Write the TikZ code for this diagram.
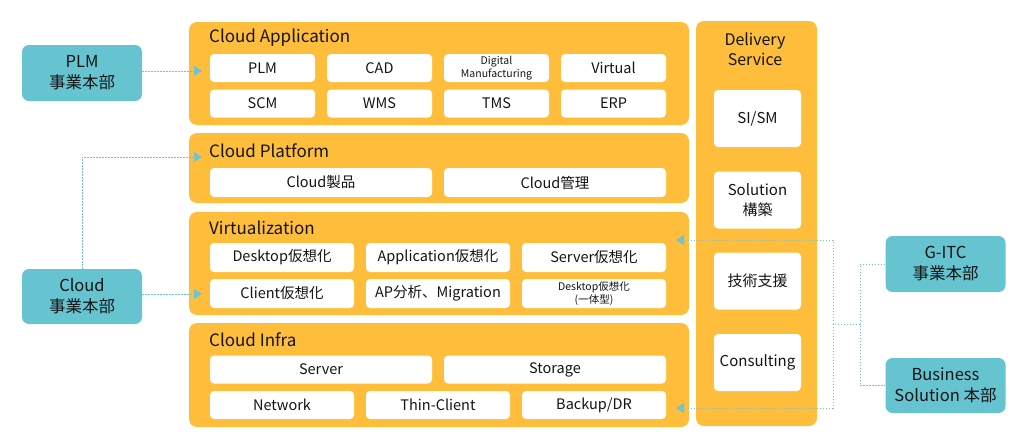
\documentclass[tikz,border=0pt]{standalone}
\usepackage{fontspec}
\setmainfont{Noto Sans CJK JP}
\usetikzlibrary{arrows.meta}
\definecolor{ylw}{RGB}{254,190,60}
\definecolor{tealbox}{RGB}{102,196,208}
\definecolor{tealline}{RGB}{110,196,212}
\definecolor{txt}{RGB}{20,20,20}
\tikzset{
  panel/.style={fill=ylw, draw=none, rounded corners=8pt, inner sep=0pt},
  wbox/.style={fill=white, draw=none, rounded corners=4pt, inner sep=0pt, align=center, text=txt, font=\fontsize{14.5}{17}\selectfont},
  smalltxt/.style={font=\fontsize{10.5}{12.5}\selectfont},
  ptitle/.style={anchor=west, inner sep=0pt, text=txt, font=\fontsize{17}{20}\selectfont},
  tbox/.style={fill=tealbox, draw=none, rounded corners=7pt, inner sep=0pt, align=center, text=txt, font=\fontsize{16.5}{21}\selectfont, minimum width=120pt, minimum height=56pt},
  conn/.style={draw=tealline, line width=1pt, dash pattern=on 1.4pt off 1.6pt},
  connA/.style={conn, -{Triangle[length=8pt,width=10pt,fill=tealline]}},
}
\begin{document}
\begin{tikzpicture}[x=1pt,y=-1pt]
\useasboundingbox (0,0) rectangle (1026,447);
% panels
\node[panel, minimum width=500pt, minimum height=103pt] (app) at (439,73.5) {};
\node[panel, minimum width=500pt, minimum height=70pt] (plat) at (439,168) {};
\node[panel, minimum width=500pt, minimum height=103pt] (virt) at (439,263.5) {};
\node[panel, minimum width=500pt, minimum height=104pt] (infra) at (439,375) {};
\node[panel, minimum width=121pt, minimum height=405pt] (deliv) at (756.5,223.5) {};
% titles
\node[ptitle] (tapp) at (209,38) {Cloud Application};
\node[ptitle] (tplat) at (209,151) {Cloud Platform};
\node[ptitle] (tvirt) at (209,228) {Virtualization};
\node[ptitle] (tinfra) at (209,340) {Cloud Infra};
\node[inner sep=0pt, text=txt, align=center, font=\fontsize{16}{20}\selectfont] (tdel) at (755,49) {Delivery\\Service};
% application boxes
\tikzset{a/.style={wbox, minimum width=105pt, minimum height=28pt}}
\node[a] (plm) at (262.5,68) {PLM};
\node[a] (cad) at (379.5,68) {CAD};
\node[a, smalltxt] (dm) at (496.5,68) {Digital\\Manufacturing};
\node[a] (vir) at (613.5,68) {Virtual};
\node[a] (scm) at (262.5,103.5) {SCM};
\node[a] (wms) at (379.5,103.5) {WMS};
\node[a] (tms) at (496.5,103.5) {TMS};
\node[a] (erp) at (613.5,103.5) {ERP};
% platform boxes
\tikzset{b/.style={wbox, minimum width=222pt, minimum height=29pt}}
\node[b] (cp) at (321,182.5) {Cloud製品};
\node[b] (cm) at (555,182.5) {Cloud管理};
% virtualization boxes
\tikzset{c/.style={wbox, minimum width=144pt, minimum height=29pt}}
\node[c] (dv) at (282,257.5) {Desktop仮想化};
\node[c] (av) at (438,257.5) {Application仮想化};
\node[c] (sv) at (594,257.5) {Server仮想化};
\node[c] (clv) at (282,293.5) {Client仮想化};
\node[c] (apm) at (438,293.5) {AP分析、Migration};
\node[c, smalltxt] (dvi) at (594,293.5) {Desktop仮想化\\(一体型)};
% infra boxes
\tikzset{d/.style={wbox, minimum width=222pt, minimum height=28pt}}
\node[d] (srv) at (321,369.5) {Server};
\node[d] (sto) at (555,369.5) {Storage};
\tikzset{e/.style={wbox, minimum width=144pt, minimum height=28pt}}
\node[e] (net) at (282,405) {Network};
\node[e] (thin) at (438,405) {Thin-Client};
\node[e] (bkp) at (594,405) {Backup/DR};
% delivery boxes
\tikzset{f/.style={wbox, minimum width=87pt, minimum height=57pt, font=\fontsize{15}{20}\selectfont}}
\node[f] (sism) at (757.5,118.5) {SI/SM};
\node[f] (sol) at (757.5,200) {Solution\\構築};
\node[f] (gis) at (757.5,281) {技術支援};
\node[f] (cons) at (757.5,362.5) {Consulting};
% teal boxes
\node[tbox] (plmd) at (82,73) {PLM\\事業本部};
\node[tbox, minimum height=55pt] (cloudd) at (82,296.5) {Cloud\\事業本部};
\node[tbox] (gitc) at (945.5,264) {G-ITC\\事業本部};
\node[tbox, minimum height=55pt] (bsd) at (945.5,385.5) {Business\\Solution 本部};
% connectors
\coordinate (t1) at (202,71);
\coordinate (t2) at (202,157);
\coordinate (t3) at (202,294);
\coordinate (t4) at (676,240);
\coordinate (t5) at (676,408);
\coordinate (j1) at (860,324);
\coordinate (j2) at (833,324);
\draw[connA] (plmd.east |- t1) -- (t1);
\draw[connA] (cloudd.north) |- (t2);
\draw[connA] (cloudd.east |- t3) -- (t3);
\draw[conn] (gitc.west) -| (j1) |- (bsd.west);
\draw[conn] (j1) -- (j2);
\draw[connA] (j2) |- (t4);
\draw[connA] (j2) |- (t5);
\end{tikzpicture}
\end{document}
